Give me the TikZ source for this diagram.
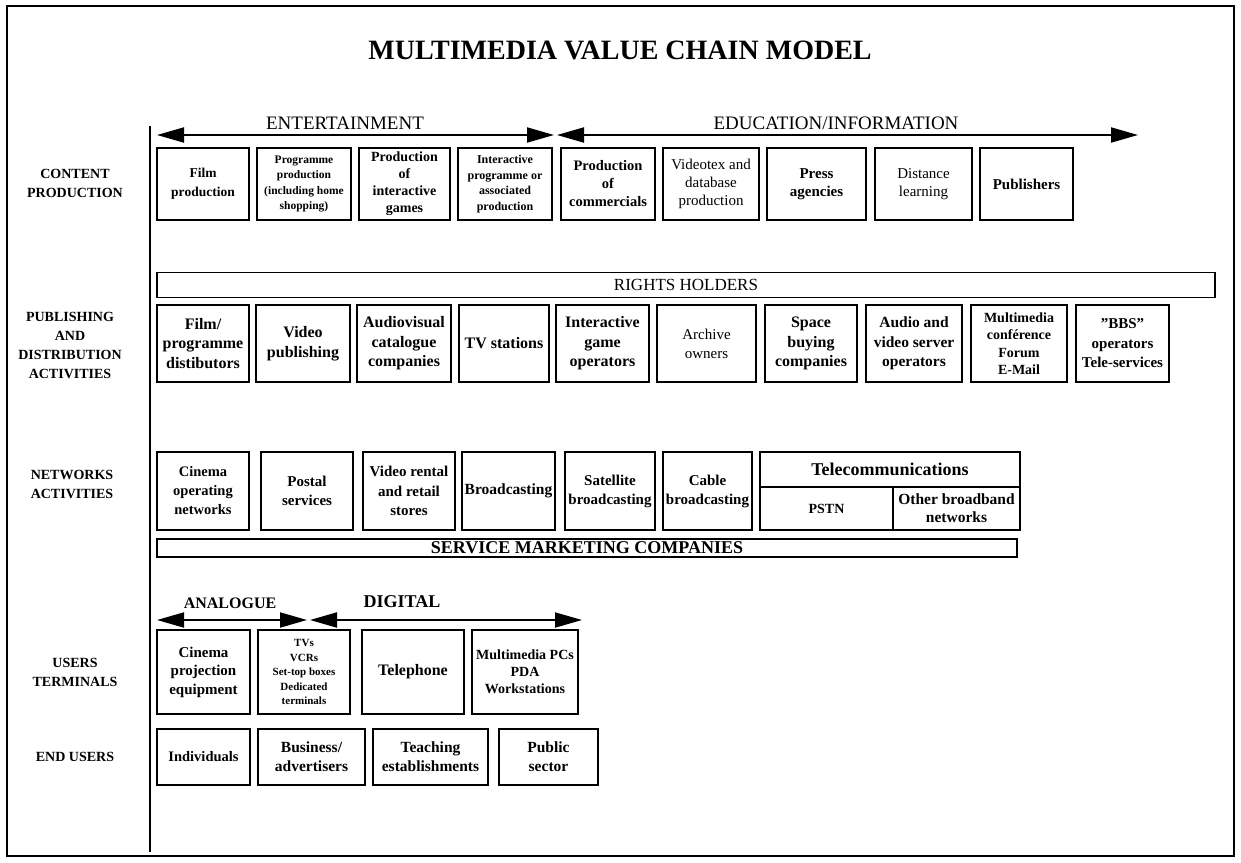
\documentclass[tikz,border=0pt]{standalone}
\usepackage{fontspec}
\setmainfont{Liberation Serif}
\usetikzlibrary{arrows.meta}
\newcommand\fs[2]{\fontsize{#1}{#2}\selectfont}
\tikzset{
  box/.style={draw, line width=1.9pt, inner sep=0.5pt, align=center,
    font=\bfseries\fs{15}{18.5}},
  bar/.style={draw, line width=1.9pt, inner sep=0pt},
  rowlbl/.style={align=center, font=\bfseries\fs{14}{19}},
  arrlbl/.style={font=\fs{19}{21}},
  dblarrow/.style={line width=1.9pt, {Triangle[length=27pt,width=15pt]}-{Triangle[length=27pt,width=15pt]}},
  frame/.style={line width=1.3pt},
}
\newcommand\bx[7][]{\node[box,minimum width={(#5-#3)*1pt},minimum height={(#6-#4)*1pt},#1] (#2) at ({(#3+#5)/2},{(#4+#6)/2}) {#7};}
\begin{document}
\begin{tikzpicture}[x=1pt,y=-1pt]
\useasboundingbox (0,0) rectangle (1241,862);
% frame
\draw[frame] (7,6) rectangle (1234,856);
\draw[line width=1.5pt] (150,126) -- (150,852);
% title
\node[font=\bfseries\fs{28}{30}] (title) at (620,50) {MULTIMEDIA VALUE CHAIN MODEL};
% row labels
\node[rowlbl] (lcp) at (75,183) {CONTENT\\PRODUCTION};
\node[rowlbl] (lpd) at (70,345) {PUBLISHING\\AND\\DISTRIBUTION\\ACTIVITIES};
\node[rowlbl] (lna) at (72,484) {NETWORKS\\ACTIVITIES};
\node[rowlbl] (lut) at (75,672) {USERS\\TERMINALS};
\node[rowlbl] (leu) at (75,757) {END USERS};
% top arrows
\coordinate (entL) at (157,135); \coordinate (entR) at (554,135);
\coordinate (eduL) at (557,135); \coordinate (eduR) at (1138,135);
\draw[dblarrow] (entL) -- (entR);
\draw[dblarrow] (eduL) -- (eduR);
\node[arrlbl] (entlbl) at (345,123) {ENTERTAINMENT};
\node[arrlbl] (edulbl) at (836,123) {EDUCATION/INFORMATION};
% content production
\bx[font=\bfseries\fs{13.5}{19}]{c1}{157}{148}{249}{220}{Film\\production}
\bx[font=\bfseries\fs{11.5}{15.5}]{c2}{257}{148}{351}{220}{Programme\\production\\(including home\\shopping)}
\bx[font=\bfseries\fs{14}{17}]{c3}{359}{148}{450}{220}{Production\\of\\interactive\\games}
\bx[font=\bfseries\fs{12}{15.5}]{c4}{458}{148}{552}{220}{Interactive\\programme or\\associated\\production}
\bx[font=\bfseries\fs{14.5}{18}]{c5}{561}{148}{655}{220}{Production\\of\\commercials}
\bx[font=\fs{15}{18}]{c6}{663}{148}{759}{220}{Videotex and\\database\\production}
\bx{c7}{767}{148}{866}{220}{Press\\agencies}
\bx[font=\fs{15}{18.5}]{c8}{875}{148}{972}{220}{Distance\\learning}
\bx{c9}{980}{148}{1073}{220}{Publishers}
% rights holders
\node[bar, minimum width={1058pt}, minimum height={25pt}, font=\fs{17}{19}] (rh) at (686,285) {RIGHTS HOLDERS};
% publishing
\bx[font=\bfseries\fs{16}{19.5}]{p1}{157}{305}{249}{382}{Film/\\programme\\distibutors}
\bx[font=\bfseries\fs{16}{19.5}]{p2}{256}{305}{350}{382}{Video\\publishing}
\bx[font=\bfseries\fs{16}{19.5}]{p3}{357}{305}{451}{382}{Audiovisual\\catalogue\\companies}
\bx[font=\bfseries\fs{16}{19.5}]{p4}{459}{305}{549}{382}{TV stations}
\bx[font=\bfseries\fs{16}{19.5}]{p5}{556}{305}{649}{382}{Interactive\\game\\operators}
\bx[font=\fs{15}{19}]{p6}{657}{305}{756}{382}{Archive\\owners}
\bx[font=\bfseries\fs{16}{19.5}]{p7}{765}{305}{857}{382}{Space\\buying\\companies}
\bx[font=\bfseries\fs{15.5}{19.5}]{p8}{866}{305}{962}{382}{Audio and\\video server\\operators}
\bx[font=\bfseries\fs{14}{17.5}]{p9}{971}{305}{1067}{382}{Multimedia\\conférence\\Forum\\E-Mail}
\bx[font=\bfseries\fs{15}{19.5}]{p10}{1076}{305}{1169}{382}{\char34 BBS\char34\\operators\\Tele-services}
% networks
\bx[font=\bfseries\fs{14.5}{19}]{n1}{157}{452}{249}{530}{Cinema\\operating\\networks}
\bx{n2}{261}{452}{353}{530}{Postal\\services}
\bx[font=\bfseries\fs{15}{19.5}]{n3}{363}{452}{455}{530}{Video rental\\and retail\\stores}
\bx[font=\bfseries\fs{15.5}{18}]{n4}{462}{452}{555}{530}{Broadcasting}
\bx[font=\bfseries\fs{15}{19}]{n5}{565}{452}{655}{530}{Satellite\\broadcasting}
\bx[font=\bfseries\fs{15}{19}]{n6}{663}{452}{752}{530}{Cable\\broadcasting}
\bx[font=\bfseries\fs{18}{21}]{tel}{760}{452}{1020}{487}{Telecommunications}
\bx[font=\bfseries\fs{14}{16}]{pstn}{760}{487}{893}{530}{PSTN}
\bx[font=\bfseries\fs{15.5}{18}]{obn}{893}{487}{1020}{530}{Other broadband\\networks}
% service marketing
\node[bar, minimum width={860pt}, minimum height={18pt}] (smc) at (587,548) {};
\node[font=\bfseries\fs{18}{19}, inner sep=0pt] (smclbl) at (smc.center) {SERVICE MARKETING COMPANIES};
% analogue / digital
\coordinate (anaL) at (157,620); \coordinate (anaR) at (307,620);
\coordinate (digL) at (310,620); \coordinate (digR) at (582,620);
\draw[dblarrow] (anaL) -- (anaR);
\draw[dblarrow] (digL) -- (digR);
\node[font=\bfseries\fs{16}{18}] (analbl) at (230,603) {ANALOGUE};
\node[font=\bfseries\fs{18}{20}] (diglbl) at (402,602) {DIGITAL};
% user terminals
\bx{t1}{157}{630}{250}{714}{Cinema\\projection\\equipment}
\bx[font=\bfseries\fs{11}{14.5}]{t2}{258}{630}{350}{714}{TVs\\VCRs\\Set-top boxes\\Dedicated\\terminals}
\bx[font=\bfseries\fs{16}{18}]{t3}{362}{630}{464}{714}{Telephone}
\bx[font=\bfseries\fs{14}{17}]{t4}{472}{630}{578}{714}{Multimedia PCs\\PDA\\Workstations}
% end users
\bx[font=\bfseries\fs{14.5}{18}]{e1}{157}{729}{250}{785}{Individuals}
\bx[font=\bfseries\fs{15.5}{19}]{e2}{258}{729}{365}{785}{Business/\\advertisers}
\bx[font=\bfseries\fs{15.5}{19}]{e3}{373}{729}{488}{785}{Teaching\\establishments}
\bx[font=\bfseries\fs{15.5}{19}]{e4}{499}{729}{598}{785}{Public\\sector}
\end{tikzpicture}
\end{document}
